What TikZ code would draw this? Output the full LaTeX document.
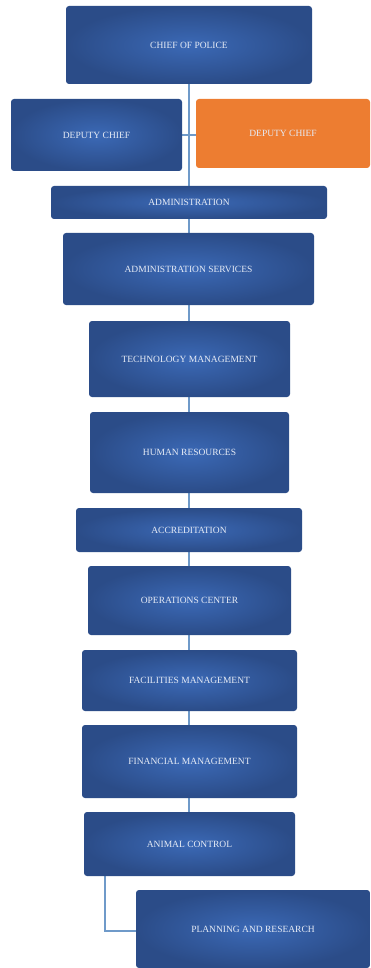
\documentclass[tikz,border=0pt]{standalone}
\usepackage{fontspec}
\setmainfont{Liberation Serif}
\usetikzlibrary{backgrounds}
\definecolor{bluemid}{HTML}{3B69B6}
\definecolor{blueedge}{HTML}{2B4C88}
\definecolor{orgbox}{HTML}{ED7D31}
\definecolor{conn}{HTML}{6F9AC9}
\definecolor{boxtext}{HTML}{E6EBF5}
\tikzset{
  x=1pt,y=-1pt,
  orgnode/.style={rounded corners=3pt, inner sep=0pt, text=boxtext,
    font=\fontsize{9.5}{11}\selectfont},
  bluebox/.style={orgnode, inner color=bluemid, outer color=blueedge},
  orangebox/.style={orgnode, fill=orgbox},
  link/.style={draw=conn, line width=1.1pt},
}
\newcommand{\orgbox}[7]{\node[#1, minimum width=#5pt, minimum height=#6pt] (#2) at (#3,#4) {#7};}
\begin{document}
\begin{tikzpicture}
\useasboundingbox (0,0) rectangle (370,968);
\orgbox{bluebox}{chief}{189}{45}{246}{78}{CHIEF OF POLICE}
\orgbox{bluebox}{depone}{96.5}{135}{171}{72}{DEPUTY CHIEF}
\orgbox{orangebox}{deptwo}{283}{133.5}{174}{69}{DEPUTY CHIEF}
\orgbox{bluebox}{admin}{189}{202.5}{276}{33}{ADMINISTRATION}
\orgbox{bluebox}{adserv}{188.5}{269}{251}{72}{ADMINISTRATION SERVICES}
\orgbox{bluebox}{tech}{189.5}{359}{201}{76}{TECHNOLOGY MANAGEMENT}
\orgbox{bluebox}{hr}{189.5}{452.5}{199}{81}{HUMAN RESOURCES}
\orgbox{bluebox}{accr}{189}{530}{226}{44}{ACCREDITATION}
\orgbox{bluebox}{ops}{189.5}{600.5}{203}{69}{OPERATIONS CENTER}
\orgbox{bluebox}{fac}{189.5}{680.5}{215}{61}{FACILITIES MANAGEMENT}
\orgbox{bluebox}{fin}{189.5}{761.5}{215}{73}{FINANCIAL MANAGEMENT}
\orgbox{bluebox}{animal}{189.5}{844}{211}{64}{ANIMAL CONTROL}
\orgbox{bluebox}{plan}{253}{929}{234}{78}{PLANNING AND RESEARCH}
\begin{scope}[on background layer]
  \draw[link] (chief.south) -- (chief.south |- admin.north);
  \draw[link] (depone.east) -- (depone.east -| deptwo.west);
  \draw[link] (chief.south |- admin.south) -- (chief.south |- adserv.north);
  \draw[link] (chief.south |- adserv.south) -- (chief.south |- tech.north);
  \draw[link] (chief.south |- tech.south) -- (chief.south |- hr.north);
  \draw[link] (chief.south |- hr.south) -- (chief.south |- accr.north);
  \draw[link] (chief.south |- accr.south) -- (chief.south |- ops.north);
  \draw[link] (chief.south |- ops.south) -- (chief.south |- fac.north);
  \draw[link] (chief.south |- fac.south) -- (chief.south |- fin.north);
  \draw[link] (chief.south |- fin.south) -- (chief.south |- animal.north);
  \draw[link] ([xshift=-84.5pt]animal.south) |- ([yshift=-2pt]plan.west);
\end{scope}
\end{tikzpicture}
\end{document}
